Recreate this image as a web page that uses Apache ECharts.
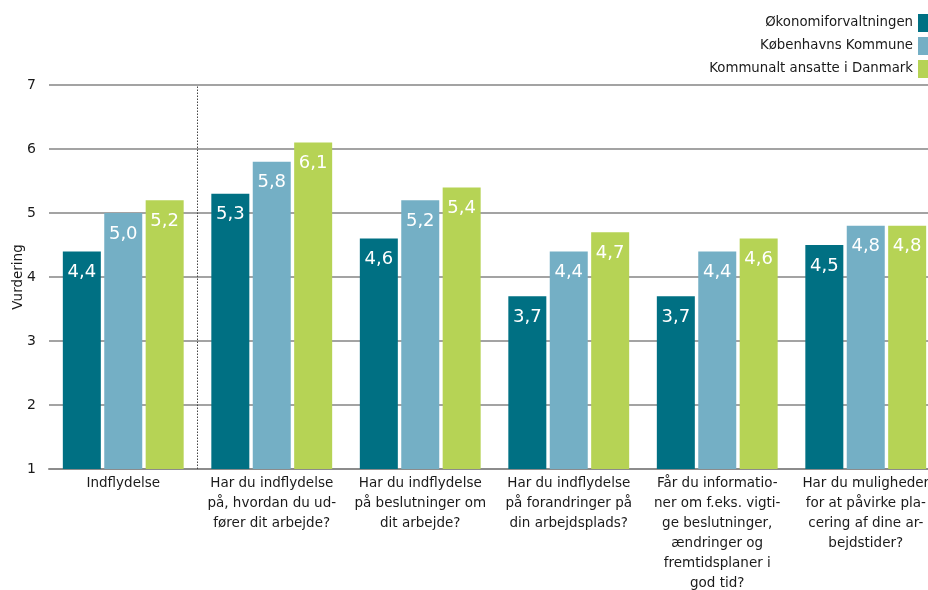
<!DOCTYPE html>
<html>
<head>
<meta charset="utf-8">
<script src="https://cdn.jsdelivr.net/npm/echarts@6/dist/echarts.min.js"></script>
<style>
  html, body { margin: 0; padding: 0; background: #ffffff; }
  #chart { width: 928px; height: 590px; }
</style>
</head>
<body>
<div id="chart"></div>
<script>
// Question categories (line breaks as printed under each group)
const categories = [
  'Indflydelse',
  'Har du indflydelse\npå, hvordan du ud-\nfører dit arbejde?',
  'Har du indflydelse\npå beslutninger om\ndit arbejde?',
  'Har du indflydelse\npå forandringer på\ndin arbejdsplads?',
  'Får du informatio-\nner om f.eks. vigti-\nge beslutninger,\nændringer og\nfremtidsplaner i\ngod tid?',
  'Har du muligheder\nfor at påvirke pla-\ncering af dine ar-\nbejdstider?'
];
// number of summary groups shown before the dotted separator
const summaryCount = 1;

const seriesNames = ['Økonomiforvaltningen', 'Københavns Kommune', 'Kommunalt ansatte i Danmark'];
const okonomiValues = [4.4, 5.3, 4.6, 3.7, 3.7, 4.5];
const kommuneValues = [5.0, 5.8, 5.2, 4.4, 4.4, 4.8];
const danmarkValues = [5.2, 6.1, 5.4, 4.7, 4.6, 4.8];

const yTicks = [1, 2, 3, 4, 5, 6, 7];

const colors = ['#007083', '#74afc5', '#b6d355'];
const fontFamily = 'DejaVu Sans, Verdana, sans-serif';

const chart = echarts.init(document.getElementById('chart'), null, { renderer: 'canvas' });

function barSeries(name, data, color) {
  return {
    name: name,
    type: 'bar',
    data: data,
    barWidth: 38,
    barGap: '9%',
    itemStyle: { color: color },
    label: {
      show: true,
      position: 'insideTop',
      distance: 12,
      color: '#ffffff',
      fontFamily: fontFamily,
      fontSize: 18,
      formatter: p => p.value.toFixed(1).replace('.', ',')
    }
  };
}

chart.setOption({
  animation: false,
  color: colors,
  textStyle: { fontFamily: fontFamily },
  legend: {
    orient: 'vertical',
    right: -5,
    top: 9,
    align: 'right',
    itemWidth: 10,
    itemHeight: 18,
    itemGap: 5,
    icon: 'rect',
    textStyle: { fontFamily: fontFamily, fontSize: 13.3, color: '#1a1a1a' },
    data: seriesNames
  },
  // the plot runs a little past the right edge of the page
  grid: { left: 49, width: 891, top: 85, bottom: 121, containLabel: false, outerBoundsMode: 'none' },
  xAxis: [
    {
      type: 'category',
      data: categories,
      axisLine: { show: true, lineStyle: { color: '#8c8c8c', width: 2 } },
      axisTick: { show: false },
      axisLabel: {
        interval: 0,
        margin: 4,
        fontFamily: fontFamily,
        fontSize: 13.5,
        lineHeight: 20,
        color: '#1a1a1a',
        align: 'center'
      },
      splitLine: { show: false }
    },
    {
      // hidden helper axis measured in category widths, used for the separator
      type: 'value',
      show: false,
      min: 0,
      max: categories.length,
      position: 'bottom'
    }
  ],
  yAxis: {
    type: 'value',
    min: yTicks[0],
    max: yTicks[yTicks.length - 1],
    interval: 1,
    name: 'Vurdering',
    nameLocation: 'middle',
    nameGap: 24,
    nameMoveOverlap: false,
    nameTextStyle: { fontFamily: fontFamily, fontSize: 13.5, color: '#1a1a1a' },
    axisLine: { show: false },
    axisTick: { show: false },
    axisLabel: { fontFamily: fontFamily, fontSize: 14, color: '#1a1a1a', margin: 13 },
    splitLine: { lineStyle: { color: '#a3a3a3', width: 2 } }
  },
  series: [
    barSeries(seriesNames[0], okonomiValues, colors[0]),
    barSeries(seriesNames[1], kommuneValues, colors[1]),
    barSeries(seriesNames[2], danmarkValues, colors[2]),
    {
      name: 'separator',
      type: 'line',
      xAxisIndex: 1,
      data: [],
      silent: true,
      markLine: {
        silent: true,
        symbol: 'none',
        label: { show: false },
        lineStyle: { type: [1.5, 1.5], color: '#444444', width: 1 },
        data: [{ xAxis: summaryCount }]
      }
    }
  ]
});
</script>
</body>
</html>
